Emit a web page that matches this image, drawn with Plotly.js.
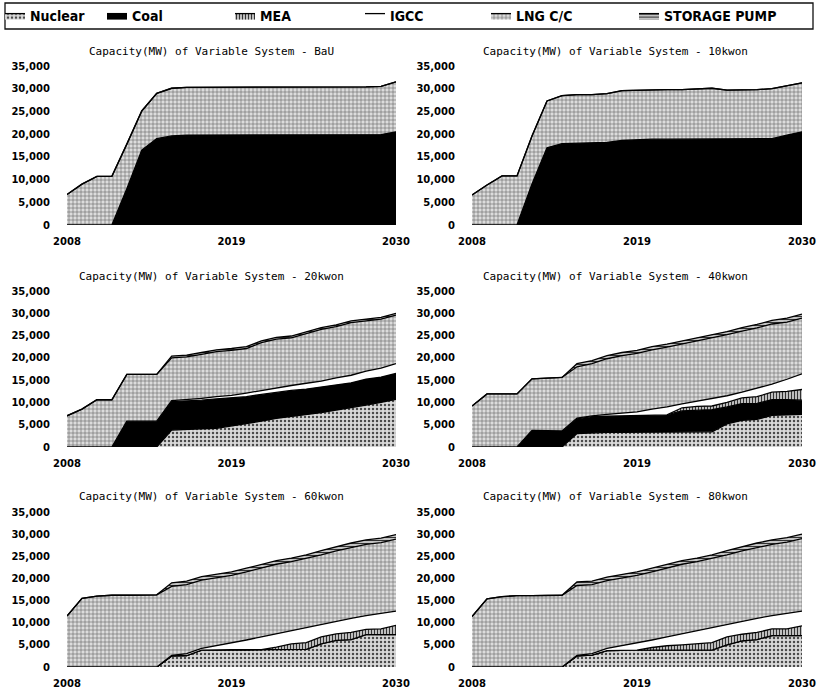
<!DOCTYPE html>
<html><head><meta charset="utf-8">
<script src="https://cdn.plot.ly/plotly-3.0.1.min.js"></script>
<style>html,body{margin:0;padding:0;background:#fff;}#chart{width:817px;height:691px;}</style>
</head><body><div id="chart"></div>
<script>
// ---------------- DATA ----------------
const years = [2008,2009,2010,2011,2012,2013,2014,2015,2016,2017,2018,2019,2020,2021,2022,2023,2024,2025,2026,2027,2028,2029,2030];
const seriesNames = ['Nuclear','Coal','MEA','IGCC','LNG C/C','STORAGE PUMP'];
const scenarioNames = ['BaU','10kwon','20kwon','40kwon','60kwon','80kwon'];
const xTickVals = [2008,2019,2030];
const yTickVals = [0,5000,10000,15000,20000,25000,30000,35000];

// BaU
const bauNuclear = [0,0,0,0,0,0,0,0,0,0,0,0,0,0,0,0,0,0,0,0,0,0,0];
const bauCoal    = [0,0,0,0,8000,16500,19000,19600,19800,19800,19800,19800,19800,19800,19800,19800,19800,19800,19800,19800,19800,19900,20500];
const bauMEA     = [0,0,0,0,0,0,0,0,0,0,0,0,0,0,0,0,0,0,0,0,0,0,0];
const bauIGCC    = [0,0,0,0,0,0,0,0,0,0,0,0,0,0,0,0,0,0,0,0,0,0,0];
const bauLNG     = [6700,9000,10700,10700,9800,8600,10000,10500,10500,10500,10500,10500,10600,10600,10600,10500,10500,10500,10500,10600,10600,10600,11000];
const bauStorage = [0,0,0,0,0,0,0,0,0,0,0,0,0,0,0,0,0,0,0,0,0,0,0];
// 10kwon
const k10Nuclear = [0,0,0,0,0,0,0,0,0,0,0,0,0,0,0,0,0,0,0,0,0,0,0];
const k10Coal    = [0,0,0,0,9000,17000,17900,18000,18100,18200,18600,18800,18900,18900,18900,19000,19000,18900,18900,18900,19000,19800,20500];
const k10MEA     = [0,0,0,0,0,0,0,0,0,0,0,0,0,0,0,0,0,0,0,0,0,0,0];
const k10IGCC    = [0,0,0,0,0,0,0,0,0,0,0,0,0,0,0,0,0,0,0,0,0,0,0];
const k10LNG     = [6600,8800,10800,10800,10600,10300,10600,10700,10600,10700,11000,10900,10800,10900,10900,11000,11100,10800,10800,10900,11000,10900,10800];
const k10Storage = [0,0,0,0,0,0,0,0,0,0,0,0,0,0,0,0,0,0,0,0,0,0,0];
// 20kwon
const k20Nuclear = [0,0,0,0,0,0,0,3800,4000,4100,4200,4700,5300,5800,6400,6800,7200,7700,8300,8800,9400,10000,10700];
const k20Coal    = [0,0,0,0,5800,5800,5800,6400,6300,6400,6600,6300,6000,6000,5900,5900,5800,5800,5700,5600,5800,5700,5800];
const k20MEA     = [0,0,0,0,0,0,0,0,0,0,0,0,0,0,0,0,0,0,0,0,0,0,0];
const k20IGCC    = [0,0,0,0,0,0,0,200,300,400,500,600,800,900,1000,1100,1300,1300,1500,1700,1800,2000,2200];
const k20LNG     = [7000,8500,10600,10600,10500,10500,10500,9600,9600,9900,10100,10100,10000,10700,10900,10700,11100,11600,11500,11800,11300,11000,10900];
const k20Storage = [0,0,0,0,0,0,0,400,400,400,400,400,400,400,400,400,400,400,400,400,400,400,400];
// 40kwon
const k40Nuclear = [0,0,0,0,0,0,0,3000,3200,3300,3300,3300,3300,3300,3300,3300,3400,5200,6000,6200,7100,7200,7300];
const k40Coal    = [0,0,0,0,3700,3700,3600,3300,3600,3600,3700,3700,3800,3900,4800,5000,5000,3800,3700,3600,3500,3400,3200];
const k40MEA     = [0,0,0,0,0,0,0,0,0,0,0,0,0,0,700,800,800,1000,1300,1500,1700,1900,2400];
const k40IGCC    = [0,0,0,0,0,0,0,200,200,400,600,900,1400,1800,900,1200,1700,1500,1300,1900,1800,2700,3500];
const k40LNG     = [9200,11900,11900,11900,11600,11800,12000,11500,11700,12500,12900,13100,13300,13400,13400,13400,13600,13700,13700,13500,13500,12800,12500];
const k40Storage = [0,0,0,0,0,0,0,700,700,700,700,700,700,700,700,700,700,700,800,800,800,900,900];
// 60kwon
const k60Nuclear = [0,0,0,0,0,0,0,2500,2600,3800,3900,3900,3900,3900,3900,3900,4000,5200,6000,6200,7300,7300,7300];
const k60Coal    = [0,0,0,0,0,0,0,0,0,0,0,0,0,0,0,0,0,0,0,0,0,0,0];
const k60MEA     = [0,0,0,0,0,0,0,0,0,0,0,0,0,0,600,1300,1500,1600,1500,1600,1200,1300,2100];
const k60IGCC    = [0,0,0,0,0,0,0,100,400,400,900,1500,2200,2900,3000,3100,3500,2900,2800,3200,3100,3500,3200];
const k60LNG     = [11500,15500,16000,16200,16200,16200,16300,15600,15600,15400,15300,15300,15400,15500,15700,15500,15500,15600,15900,16000,16100,16000,16300];
const k60Storage = [0,0,0,0,0,0,0,800,800,800,800,800,800,800,800,800,800,1000,1000,1000,1000,1000,1000];
// 80kwon
const k80Nuclear = [0,0,0,0,0,0,0,2500,2700,3700,3800,3800,3800,3800,3800,3800,3800,5000,5900,6200,7100,7100,7100];
const k80Coal    = [0,0,0,0,0,0,0,0,0,0,0,0,0,0,0,0,0,0,0,0,0,0,0];
const k80MEA     = [0,0,0,0,0,0,0,0,0,0,0,0,600,1000,1200,1400,1700,1800,1500,1600,1500,1500,2200];
const k80IGCC    = [0,0,0,0,0,0,0,100,300,500,1000,1600,1700,2000,2500,3100,3500,2900,2900,3200,3000,3500,3300];
const k80LNG     = [11400,15400,15900,16100,16100,16100,16200,15800,15600,15300,15300,15300,15400,15500,15700,15500,15500,15600,15900,16000,16100,16100,16400];
const k80Storage = [0,0,0,0,0,0,0,800,800,800,800,800,800,800,800,800,800,1000,1000,1000,1000,1000,1000];

const scenarioData = [
  [bauNuclear,bauCoal,bauMEA,bauIGCC,bauLNG,bauStorage],
  [k10Nuclear,k10Coal,k10MEA,k10IGCC,k10LNG,k10Storage],
  [k20Nuclear,k20Coal,k20MEA,k20IGCC,k20LNG,k20Storage],
  [k40Nuclear,k40Coal,k40MEA,k40IGCC,k40LNG,k40Storage],
  [k60Nuclear,k60Coal,k60MEA,k60IGCC,k60LNG,k60Storage],
  [k80Nuclear,k80Coal,k80MEA,k80IGCC,k80LNG,k80Storage]
];

// ---------------- STYLE ----------------
const W = 817, H = 691;
const fills = [
  {fillcolor:'#d0d0d0', fillpattern:{shape:'.', fgcolor:'#4a4a4a', bgcolor:'#d9d9d9', size:4, solidity:0.3}},
  {fillcolor:'#000000'},
  {fillcolor:'#c4c4c4', fillpattern:{shape:'|', fgcolor:'#333333', bgcolor:'#cdcdcd', size:3, solidity:0.4}},
  {fillcolor:'#ffffff'},
  {fillcolor:'#d0d0d0', fillpattern:{shape:'+', fgcolor:'#5a5a5a', bgcolor:'#dcdcdc', size:4, solidity:0.25}},
  {fillcolor:'#c8c8c8', fillpattern:{shape:'-', fgcolor:'#333333', bgcolor:'#d2d2d2', size:3, solidity:0.4}}
];
const colPx = [[67,396],[472,802]];
const rowPx = [[66,225],[291,447],[512,667]];
const titleY = [51,276,497];
const titleX = [211,615];
const legendTextX = [30,132,260,390,516,664];

const traces = [];
const layout = {
  width:W, height:H, margin:{l:0,r:0,t:0,b:0},
  paper_bgcolor:'#fff', plot_bgcolor:'rgba(0,0,0,0)',
  font:{family:'DejaVu Sans, sans-serif', size:10, color:'#000'},
  annotations:[], shapes:[]
};

scenarioData.forEach((layers, i) => {
  const ax = i===0 ? '' : String(i+1);
  layers.forEach((vals, j) => {
    const t = {
      type:'scatter', mode:'lines', x:years, y:vals, name:seriesNames[j],
      stackgroup:'s'+i, xaxis:'x'+ax, yaxis:'y'+ax,
      line:{color:'#000', width:1.3},
      fillcolor:fills[j].fillcolor,
      showlegend: i===0, legend: j===0 ? 'legend' : 'legend'+(j+1),
      hoverinfo:'skip'
    };
    if (fills[j].fillpattern) t.fillpattern = fills[j].fillpattern;
    traces.push(t);
  });
  const c = i%2, r = Math.floor(i/2);
  layout['xaxis'+ax] = {
    domain:[colPx[c][0]/W, colPx[c][1]/W], range:[2008,2030], anchor:'y'+ax,
    tickvals:xTickVals, ticktext:xTickVals.map(String), showgrid:false, zeroline:false, showline:false,
    ticks:'outside', ticklen:7, tickcolor:'rgba(0,0,0,0)',
    tickfont:{family:'DejaVu Sans, sans-serif', size:10, color:'#000', weight:'bold'}
  };
  layout['yaxis'+ax] = {
    domain:[1-rowPx[r][1]/H, 1-rowPx[r][0]/H], range:[0,35000], anchor:'x'+ax,
    tickvals:yTickVals, tickformat:',', showgrid:false, zeroline:false, showline:false,
    ticks:'outside', ticklen:14, tickcolor:'rgba(0,0,0,0)',
    tickfont:{family:'DejaVu Sans, sans-serif', size:10, color:'#000', weight:'bold'}
  };
  layout.annotations.push({
    text:'Capacity(MW) of Variable System - '+scenarioNames[i],
    xref:'paper', yref:'paper', x:titleX[c]/W, y:1-titleY[r]/H,
    xanchor:'center', yanchor:'middle', showarrow:false,
    font:{family:'DejaVu Sans Mono, monospace', size:11, color:'#000'}
  });
});

seriesNames.forEach((n, j) => {
  const key = j===0 ? 'legend' : 'legend'+(j+1);
  layout[key] = {
    x:(legendTextX[j]-25)/W, y:1-16/H, xanchor:'left', yanchor:'middle',
    orientation:'h', bgcolor:'rgba(0,0,0,0)', borderwidth:0, itemwidth:30, indentation:-15,
    font:{family:'Liberation Sans Narrow, DejaVu Sans Condensed, Arial Narrow, sans-serif', size:14, color:'#000', weight:'bold'}
  };
});

layout.shapes.push({type:'rect', xref:'paper', yref:'paper', x0:5/W, x1:813/W, y0:1-29/H, y1:1-3/H,
  line:{color:'#111', width:1.3}, fillcolor:'rgba(0,0,0,0)'});

Plotly.newPlot('chart', traces, layout, {displayModeBar:false, staticPlot:true});
</script>
</body></html>
